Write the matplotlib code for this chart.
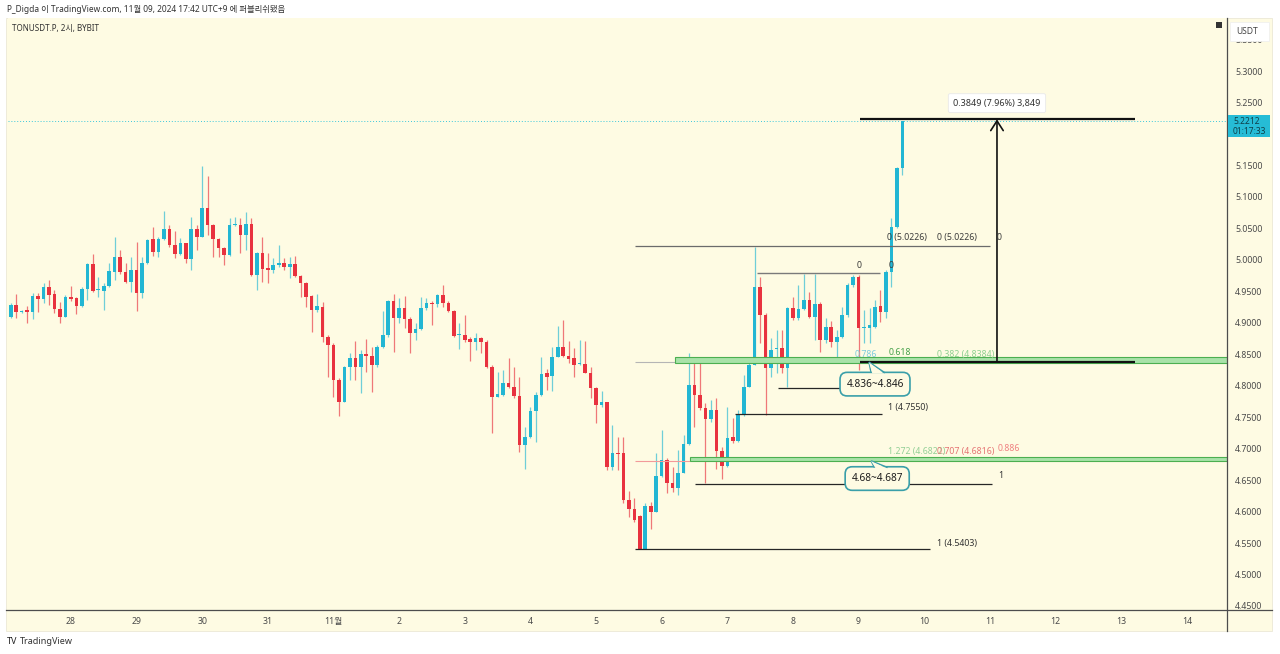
import matplotlib
matplotlib.use('Agg')
import matplotlib.pyplot as plt
from matplotlib.patches import Rectangle, Polygon
from matplotlib.lines import Line2D
from matplotlib.ticker import FixedLocator, FuncFormatter

plt.rcParams['font.family'] = ['Noto Sans', 'Noto Sans CJK KR', 'DejaVu Sans']

# ---- data: TONUSDT.P 2h candles (first candle = Oct 27 02:00) ----
opens = [4.909, 4.928, 4.917, 4.920, 4.917, 4.943, 4.938, 4.957, 4.946, 4.922,
         4.909, 4.941, 4.939, 4.926, 4.954, 4.993, 4.952, 4.951, 4.958, 4.981,
         5.005, 4.981, 4.965, 4.984, 4.947, 4.995, 5.033, 5.012, 5.033, 5.049,
         5.024, 5.009, 5.027, 5.001, 5.049, 5.036, 5.082, 5.055, 5.033, 5.019,
         5.008, 5.055, 5.055, 5.040, 5.057, 4.976, 5.011, 4.987, 4.984, 4.992,
         4.995, 4.989, 4.993, 4.974, 4.963, 4.943, 4.920, 4.925, 4.877, 4.865,
         4.809, 4.774, 4.830, 4.844, 4.830, 4.850, 4.847, 4.833, 4.862, 4.881,
         4.935, 4.907, 4.923, 4.906, 4.884, 4.890, 4.923, 4.931, 4.930, 4.944,
         4.931, 4.919, 4.881, 4.881, 4.874, 4.870, 4.876, 4.870, 4.830, 4.782,
         4.785, 4.804, 4.798, 4.784, 4.706, 4.719, 4.760, 4.785, 4.820, 4.816,
         4.846, 4.862, 4.847, 4.844, 4.835, 4.835, 4.820, 4.796, 4.769, 4.774,
         4.671, 4.693, 4.693, 4.618, 4.604, 4.593, 4.541, 4.609, 4.599, 4.657,
         4.682, 4.645, 4.638, 4.661, 4.707, 4.801, 4.785, 4.765, 4.747, 4.761,
         4.696, 4.672, 4.719, 4.712, 4.754, 4.798, 4.833, 4.957, 4.912, 4.828,
         4.858, 4.860, 4.828, 4.923, 4.907, 4.922, 4.936, 4.909, 4.930, 4.873,
         4.893, 4.870, 4.877, 4.912, 4.960, 4.973, 4.892, 4.892, 4.893, 4.926,
         4.917, 4.981, 5.052, 5.146]
highs = [4.931, 4.946, 4.921, 4.926, 4.947, 4.947, 4.963, 4.968, 4.952, 4.933,
         4.944, 4.958, 4.941, 4.957, 4.995, 5.009, 4.973, 4.963, 4.995, 5.036,
         5.016, 4.995, 5.005, 5.028, 5.005, 5.033, 5.052, 5.036, 5.078, 5.055,
         5.046, 5.035, 5.027, 5.068, 5.055, 5.149, 5.133, 5.057, 5.035, 5.020,
         5.066, 5.068, 5.066, 5.076, 5.066, 5.013, 5.036, 5.011, 5.003, 5.024,
         5.003, 5.005, 5.006, 4.976, 4.965, 4.944, 4.946, 4.933, 4.881, 4.868,
         4.812, 4.831, 4.852, 4.871, 4.857, 4.874, 4.862, 4.865, 4.919, 4.936,
         4.946, 4.939, 4.943, 4.909, 4.900, 4.941, 4.939, 4.935, 4.946, 4.960,
         4.935, 4.920, 4.900, 4.912, 4.877, 4.884, 4.877, 4.873, 4.833, 4.822,
         4.825, 4.844, 4.830, 4.814, 4.735, 4.766, 4.790, 4.846, 4.827, 4.862,
         4.895, 4.904, 4.871, 4.860, 4.873, 4.871, 4.830, 4.798, 4.792, 4.774,
         4.738, 4.719, 4.719, 4.633, 4.622, 4.595, 4.614, 4.615, 4.693, 4.730,
         4.685, 4.671, 4.698, 4.722, 4.852, 4.836, 4.841, 4.773, 4.777, 4.780,
         4.703, 4.766, 4.749, 4.761, 4.817, 4.844, 5.020, 4.973, 4.915, 4.876,
         4.889, 4.889, 4.925, 4.941, 4.960, 4.978, 4.949, 4.978, 4.933, 4.908,
         4.903, 4.889, 4.925, 4.963, 4.976, 4.976, 4.920, 4.923, 4.936, 4.952,
         4.984, 5.066, 5.147, 5.2212]
lows = [4.907, 4.907, 4.915, 4.899, 4.906, 4.917, 4.931, 4.928, 4.915, 4.899,
        4.909, 4.935, 4.914, 4.925, 4.936, 4.949, 4.941, 4.920, 4.957, 4.968,
        4.978, 4.963, 4.949, 4.919, 4.939, 4.993, 5.006, 5.005, 5.032, 5.020,
        5.003, 5.008, 4.995, 4.984, 5.016, 5.036, 5.040, 5.005, 5.005, 4.992,
        5.006, 5.054, 5.011, 5.016, 4.974, 4.952, 4.965, 4.963, 4.979, 4.989,
        4.984, 4.971, 4.973, 4.941, 4.925, 4.885, 4.917, 4.870, 4.814, 4.782,
        4.752, 4.774, 4.809, 4.809, 4.788, 4.822, 4.790, 4.830, 4.860, 4.877,
        4.854, 4.899, 4.892, 4.852, 4.873, 4.889, 4.920, 4.897, 4.925, 4.925,
        4.917, 4.877, 4.858, 4.870, 4.839, 4.857, 4.852, 4.828, 4.725, 4.782,
        4.784, 4.796, 4.781, 4.695, 4.668, 4.717, 4.711, 4.784, 4.793, 4.792,
        4.846, 4.846, 4.836, 4.814, 4.833, 4.820, 4.781, 4.741, 4.766, 4.666,
        4.666, 4.666, 4.614, 4.591, 4.584, 4.5403, 4.541, 4.572, 4.599, 4.655,
        4.630, 4.631, 4.626, 4.661, 4.706, 4.735, 4.761, 4.645, 4.742, 4.668,
        4.652, 4.671, 4.709, 4.711, 4.752, 4.798, 4.833, 4.868, 4.754, 4.814,
        4.820, 4.820, 4.798, 4.904, 4.904, 4.920, 4.907, 4.873, 4.854, 4.868,
        4.862, 4.841, 4.876, 4.909, 4.957, 4.825, 4.868, 4.868, 4.892, 4.901,
        4.907, 4.957, 5.051, 5.135]
closes = [4.928, 4.917, 4.918, 4.917, 4.943, 4.938, 4.957, 4.944, 4.922, 4.909,
          4.941, 4.938, 4.926, 4.954, 4.993, 4.951, 4.952, 4.958, 4.982, 5.005,
          4.981, 4.965, 4.984, 4.947, 4.995, 5.032, 5.012, 5.033, 5.049, 5.024,
          5.009, 5.027, 5.001, 5.049, 5.036, 5.082, 5.055, 5.033, 5.019, 5.008,
          5.055, 5.055, 5.040, 5.057, 4.976, 5.011, 4.986, 4.984, 4.992, 4.995,
          4.989, 4.993, 4.974, 4.963, 4.941, 4.920, 4.926, 4.877, 4.865, 4.809,
          4.774, 4.830, 4.844, 4.830, 4.850, 4.847, 4.833, 4.862, 4.881, 4.935,
          4.907, 4.923, 4.906, 4.884, 4.890, 4.923, 4.931, 4.930, 4.944, 4.931,
          4.919, 4.879, 4.881, 4.873, 4.870, 4.876, 4.870, 4.830, 4.782, 4.787,
          4.804, 4.798, 4.784, 4.706, 4.719, 4.760, 4.785, 4.819, 4.814, 4.846,
          4.862, 4.847, 4.843, 4.833, 4.835, 4.820, 4.796, 4.769, 4.774, 4.671,
          4.693, 4.692, 4.618, 4.604, 4.587, 4.541, 4.609, 4.599, 4.657, 4.682,
          4.645, 4.638, 4.661, 4.707, 4.801, 4.785, 4.765, 4.747, 4.761, 4.696,
          4.672, 4.717, 4.712, 4.754, 4.798, 4.833, 4.957, 4.912, 4.828, 4.857,
          4.860, 4.828, 4.923, 4.907, 4.922, 4.936, 4.909, 4.930, 4.873, 4.893,
          4.870, 4.877, 4.912, 4.960, 4.973, 4.892, 4.893, 4.897, 4.925, 4.917,
          4.981, 5.052, 5.146, 5.2212]

day_labels = ['28', '29', '30', '31', '11월', '2', '3', '4', '5',
              '6', '7', '8', '9', '10', '11', '12', '13', '14']
first_day_candle = 11      # Oct 28 00:00
candles_per_day = 12
price_ticks = [4.45, 4.50, 4.55, 4.60, 4.65, 4.70, 4.75, 4.80, 4.85, 4.90,
               4.95, 5.00, 5.05, 5.10, 5.15, 5.25, 5.30, 5.35]
last_price = 5.2212
measure_low, measure_high = 4.8384, 5.2233

# ---- styling ----
BG = '#fefbe3'
UP = '#22b6d3'
DN = '#e8323f'
W, H = 1280, 654

def fx(x):
    return x / W

def fy(y):
    return 1 - y / H

fig = plt.figure(figsize=(12.8, 6.54), dpi=100)
fig.patch.set_facecolor('white')
panel = Rectangle((fx(6), fy(631)), fx(1272) - fx(6), fy(18) - fy(631),
                  transform=fig.transFigure, facecolor=BG,
                  edgecolor='#ebe8d6', lw=0.6, zorder=-5)
fig.patches.append(panel)
ax = fig.add_axes([fx(8), fy(610), fx(1227) - fx(8), fy(18) - fy(610)])
ax.set_zorder(1)
ax.set_facecolor(BG)
for s in ax.spines.values():
    s.set_visible(False)

n = len(opens)
idx = list(range(n))
cols = [UP if c >= o else DN for o, c in zip(opens, closes)]
ax.vlines(idx, lows, highs, colors=cols, lw=0.9, alpha=0.65, zorder=3)
bottoms = [min(o, c) for o, c in zip(opens, closes)]
heights = [max(abs(c - o), 0.0013) for o, c in zip(opens, closes)]
ax.bar(idx, heights, bottom=bottoms, width=0.66, color=cols, lw=0, zorder=4)

ax.set_xlim(-0.5, 222.35)
ax.set_ylim(4.4436, 5.3843)

# last price line
ax.axhline(last_price, color='#3cc8dc', lw=0.7, ls=(0, (1, 2)), zorder=2)

# ---- drawings ----
dark = '#262626'
def hline(y, x0, x1, color=dark, lw=0.9, z=5):
    ax.plot([x0, x1], [y, y], color=color, lw=lw, zorder=z, solid_capstyle='butt')

hline(5.0226, 114.1, 179.0, color='#6b6b6b', lw=0.9)
hline(4.979, 136.4, 158.9, color='#7a7a7a', lw=1.0)
hline(4.838, 114.1, 121.4, color='#b5b5b5', lw=0.8)
hline(4.681, 114.1, 124.2, color='#f29a9a', lw=0.8)
hline(4.796, 140.3, 153.1)
hline(4.755, 132.4, 159.3)
hline(4.644, 125.1, 179.4)
hline(4.5403, 114.1, 168.1)

# green zones
ax.add_patch(Rectangle((121.4, 4.836), 110, 0.010, facecolor='#a9e2a9',
                       edgecolor='#4caf50', lw=0.8, zorder=5))
ax.add_patch(Rectangle((124.2, 4.680), 110, 0.007, facecolor='#a9e2a9',
                       edgecolor='#4caf50', lw=0.8, zorder=5))

# measure tool
hline(measure_low, 155.3, 205.5, color='#111111', lw=1.6, z=6)
hline(measure_high, 155.3, 205.5, color='#111111', lw=1.6, z=6)
ax.annotate('', xy=(180.3, measure_high), xytext=(180.3, measure_low),
            arrowprops=dict(arrowstyle='->,head_length=0.7,head_width=0.45',
                            color='#111111', lw=1.2, shrinkA=0, shrinkB=0), zorder=6)
ax.text(180.3, 5.249, '0.3849 (7.96%) 3,849', ha='center', va='center', fontsize=6.5,
        color='#333333', zorder=7,
        bbox=dict(boxstyle='round,pad=0.55,rounding_size=0.2', fc='white',
                  ec='#e9e9e9', lw=0.6))

fs = 6.3
def lab(x, y, s, color='#3a3a3a', **kw):
    ax.text(x, y, s, fontsize=fs, color=color, va='center', ha='left', zorder=7, **kw)

lab(160.2, 5.035, '0 (5.0226)')
lab(169.3, 5.035, '0 (5.0226)')
lab(180.3, 5.035, '0')
lab(154.6, 4.991, '0')
lab(160.4, 4.991, '0')
lab(154.2, 4.850, '0.786', color='#7ccbdc')
lab(160.4, 4.852, '0.618', color='#43a047', fontweight='semibold')
lab(169.3, 4.850, '0.382 (4.8384)', color='#8ccf8f')
lab(160.4, 4.766, '1 (4.7550)', color='#333333')
lab(160.4, 4.695, '1.272 (4.6822)', color='#92cf95')
lab(169.3, 4.695, '0.707 (4.6816)', color='#e57373')
lab(180.4, 4.700, '0.886', color='#ef8080')
lab(180.6, 4.657, '1', color='#333333')
lab(169.3, 4.550, '1 (4.5403)', color='#333333')

# callouts
teal = '#3a9fa9'
def callout(xc, yc, s, px, py, base0, base1, ytop):
    ax.text(xc, yc, s, ha='center', va='center', fontsize=7.3, fontweight='semibold',
            color='#1e1e1e', zorder=8,
            bbox=dict(boxstyle='round,pad=0.62,rounding_size=0.7', fc=BG, ec=teal, lw=1.2))
    ax.add_patch(Polygon([(base0, ytop), (px, py), (base1, ytop)], closed=False,
                         fill=False, edgecolor=teal, lw=1.1, zorder=9))
    ax.add_patch(Polygon([(base0 + 0.2, ytop - 0.001), (px, py - 0.0005), (base1 - 0.2, ytop - 0.001)],
                         closed=True, facecolor=BG, edgecolor='none', zorder=9))

callout(158.0, 4.8025, '4.836~4.846', 156.9, 4.8375, 157.3, 159.8, 4.8205)
callout(158.4, 4.6525, '4.68~4.687', 157.3, 4.6805, 157.9, 160.3, 4.6700)

# ---- axes ticks ----
ax.yaxis.tick_right()
ax.yaxis.set_major_locator(FixedLocator(price_ticks))
ax.yaxis.set_major_formatter(FuncFormatter(lambda v, p: f'{v:.4f}'))
ax.tick_params(axis='y', length=0, pad=6, labelsize=6.3, labelcolor='#4a4a4a')
xt = [first_day_candle + candles_per_day * k for k in range(len(day_labels))]
ax.set_xticks(xt)
ax.set_xticklabels(day_labels)
ax.tick_params(axis='x', length=0, pad=5, labelsize=6.3, labelcolor='#4a4a4a')

# frame lines
fig.add_artist(Line2D([fx(6), fx(1272)], [fy(610), fy(610)], transform=fig.transFigure,
                      color='#4d4d4d', lw=0.9, zorder=3))
fig.add_artist(Line2D([fx(1227), fx(1227)], [fy(18), fy(631)], transform=fig.transFigure,
                      color='#4d4d4d', lw=0.9, zorder=3))

# right side price tag
fig.patches.append(Rectangle((fx(1228), fy(137)), fx(1270) - fx(1228), fy(115) - fy(137),
                             transform=fig.transFigure, facecolor='#26bcd6', edgecolor='none', zorder=5))
fig.text(fx(1233), fy(121), '5.2212', fontsize=6.1, color='#0f3f48', va='center', zorder=6)
fig.text(fx(1233), fy(131), '01:17:33', fontsize=6.1, color='#0f3f48', va='center', zorder=6)

# USDT box
fig.patches.append(Rectangle((fx(1230), fy(41)), fx(1269) - fx(1230), fy(22) - fy(41),
                             transform=fig.transFigure, facecolor='white', edgecolor='#eeeeee',
                             lw=0.5, zorder=5))
fig.text(fx(1236), fy(31.5), 'USDT', fontsize=6.1, color='#444444', va='center', zorder=6)
fig.patches.append(Rectangle((fx(1216), fy(28)), fx(6), fy(22) - fy(28),
                             transform=fig.transFigure, facecolor='#333333', edgecolor='none', zorder=5))

# header / footer texts
fig.text(fx(7), fy(9.5), 'P_Digda 이 TradingView.com, 11월 09, 2024 17:42 UTC+9 에 퍼블리쉬됐음',
         fontsize=6.0, color='#333333', va='center')
fig.text(fx(12), fy(29), 'TONUSDT.P, 2시, BYBIT', fontsize=5.8, color='#333333', va='center', zorder=6)
fig.text(fx(7), fy(641), 'TV', fontsize=6.5, fontweight='bold', color='#222222', va='center')
fig.text(fx(20), fy(641), 'TradingView', fontsize=6.5, color='#333333', va='center')

fig.savefig('out.png', dpi=100, facecolor='white')
